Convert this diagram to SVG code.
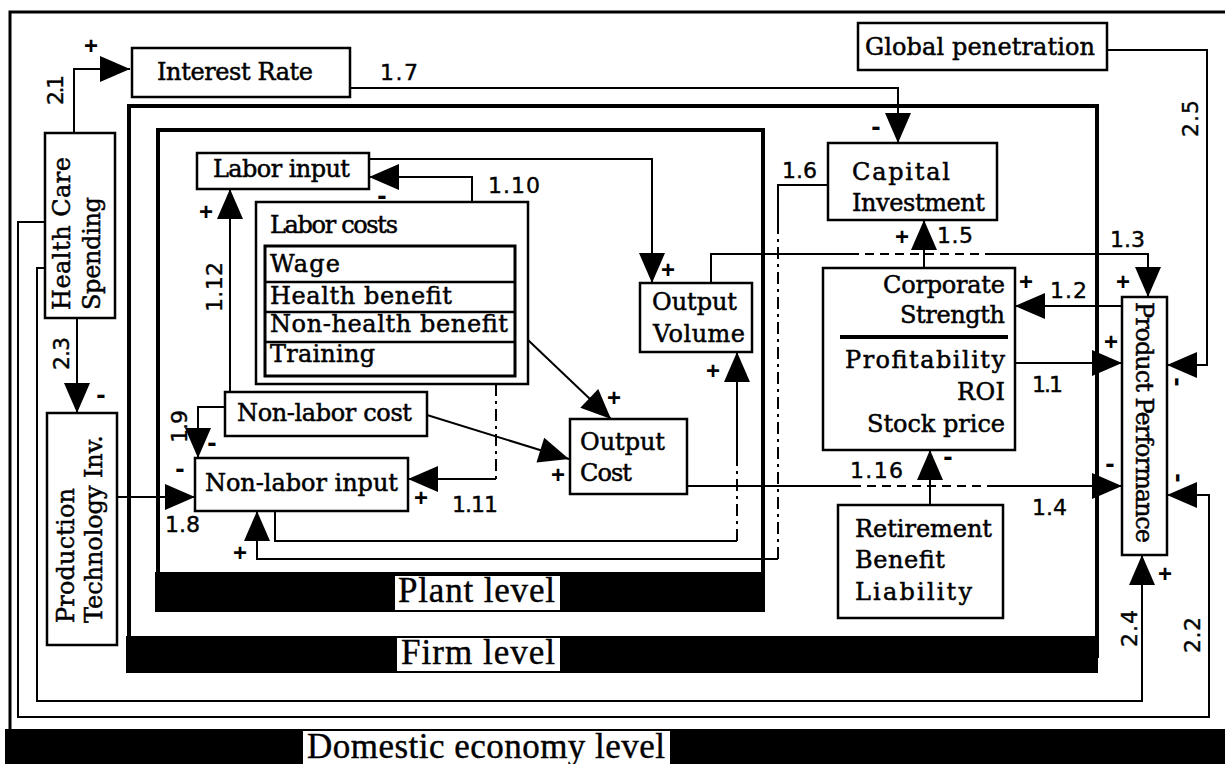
<svg xmlns="http://www.w3.org/2000/svg" width="1225" height="764" viewBox="0 0 1225 764">
<defs>
<marker id="ah" markerUnits="userSpaceOnUse" markerWidth="31" markerHeight="27" refX="30" refY="13" orient="auto" overflow="visible"><path d="M0,0 L30,13 L0,26 Z" fill="#000"/></marker>
</defs>
<style>
.box{fill:#fff;stroke:#000;stroke-width:2.5}
.c{fill:none;stroke:#000;stroke-width:2}
.ca{fill:none;stroke:#000;stroke-width:2;marker-end:url(#ah)}
.d{stroke-dasharray:9 6}
.dd{stroke-dasharray:12 5 3 5}
.n{font-family:"DejaVu Serif",serif;font-size:24px;fill:#000;stroke:#000;stroke-width:0.5}
.num{font-family:"DejaVu Sans",sans-serif;font-size:22px;fill:#000;stroke:#000;stroke-width:0.4}
.sg{font-family:"Liberation Sans",Arial,sans-serif;font-weight:bold;font-size:24px;text-anchor:middle;fill:#000}
.mn{font-family:"Liberation Sans",Arial,sans-serif;font-weight:bold;font-size:28px;text-anchor:middle;fill:#000}
.lvl{font-family:"Liberation Serif",serif;font-size:35px;fill:#000;stroke:#000;stroke-width:0.4}
.frame{fill:none;stroke:#000;stroke-width:4}
</style>
<rect x="0" y="0" width="1225" height="764" fill="#fff"/>

<g id="domestic-level">
<path d="M1225,12 H10 V729" fill="none" stroke="#000" stroke-width="3"/>
<rect x="5" y="729" width="1220" height="35" fill="#000"/>
<rect x="303" y="731" width="367" height="33" fill="#fff"/>
<text class="lvl" x="307" y="758" textLength="358">Domestic economy level</text>
</g>
<g id="firm-level">
<rect class="frame" x="129" y="106" width="968" height="550"/>
<rect x="126" y="636" width="972" height="37" fill="#000"/>
<rect x="397" y="638" width="163" height="33" fill="#fff"/>
<text class="lvl" x="401" y="664" textLength="154">Firm level</text>
</g>
<g id="plant-level">
<rect class="frame" x="158" y="130" width="605" height="460"/>
<rect x="155" y="572" width="610" height="40" fill="#000"/>
<rect x="395" y="576" width="165" height="34" fill="#fff"/>
<text class="lvl" x="398" y="602" textLength="157">Plant level</text>
</g>

<g id="connectors">
<path class="ca" d="M74,133 V69 H130"/>
<path class="ca" d="M350,88 H898 V143"/>
<path class="ca" d="M1107,50 H1207 V365 H1167"/>
<path class="ca" d="M924,268 V220"/>
<path class="c" d="M711,283 V254 H850"/>
<path class="c d" d="M850,254 H990"/>
<path class="ca" d="M990,254 H1148 V297"/>
<path class="ca" d="M1122,306 H1015"/>
<path class="ca" d="M1015,363 H1122"/>
<path class="c" d="M687,486 H852"/>
<path class="c d" d="M852,486 H992"/>
<path class="ca" d="M992,486 H1122"/>
<path class="ca" d="M930,505 V450"/>
<path class="c" d="M828,185 H778 V222"/>
<path class="c dd" d="M778,222 V559"/>
<path class="ca" d="M778,559 H257 V511"/>
<path class="c" d="M275,511 V541 H737"/>
<path class="c dd" d="M737,541 V465"/>
<path class="ca" d="M737,465 V352"/>
<path class="ca" d="M472,202 V177 H369"/>
<path class="ca" d="M369,159 H652 V283"/>
<path class="ca" d="M230,392 V189"/>
<path class="ca" d="M225,407 H198 V458"/>
<path class="ca" d="M117,497 H195"/>
<path class="ca" d="M427,415 L569,459"/>
<path class="ca" d="M528,340 L611,419"/>
<path class="c dd" d="M496,384 V479"/>
<path class="ca" d="M496,479 H408"/>
<path class="ca" d="M77,318 V413"/>
<path class="ca" d="M45,268 H37 V701 H1142 V555"/>
<path class="ca" d="M45,222 H18 V717 H1209 V495 H1167"/>

<text class="num" transform="translate(63,105) rotate(-90)" textLength="30">2.1</text>
<text class="num" x="380" y="80" textLength="38">1.7</text>
<text class="num" transform="translate(1198,137) rotate(-90)" textLength="37">2.5</text>
<text class="num" x="937" y="243" textLength="36">1.5</text>
<text class="num" x="1110" y="247" textLength="35">1.3</text>
<text class="num" x="1050" y="298" textLength="37">1.2</text>
<text class="num" x="1032" y="392" textLength="31">1.1</text>
<text class="num" x="1032" y="515" textLength="35">1.4</text>
<text class="num" x="850" y="478" textLength="53">1.16</text>
<text class="num" x="782" y="178" textLength="35">1.6</text>
<text class="num" x="488" y="193" textLength="52">1.10</text>
<text class="num" x="442" y="235" textLength="36">2.6</text>
<text class="num" transform="translate(222,312) rotate(-90)" textLength="50">1.12</text>
<text class="num" transform="translate(187,443) rotate(-90)" textLength="33">1.9</text>
<text class="num" x="165" y="532" textLength="35">1.8</text>
<text class="num" x="452" y="512" textLength="46">1.11</text>
<text class="num" transform="translate(69,370) rotate(-90)" textLength="33">2.3</text>
<text class="num" transform="translate(1137,647) rotate(-90)" textLength="37">2.4</text>
<text class="num" transform="translate(1200,653) rotate(-90)" textLength="36">2.2</text>

<text class="sg" x="91" y="54">+</text>
<text class="mn" x="876" y="136">-</text>
<text class="mn" x="382" y="205">-</text>
<text class="sg" x="206" y="220">+</text>
<text class="sg" x="668" y="278">+</text>
<text class="sg" x="713" y="379">+</text>
<text class="sg" x="614" y="406">+</text>
<text class="sg" x="558" y="483">+</text>
<text class="sg" x="421" y="506">+</text>
<text class="mn" x="212" y="452">-</text>
<text class="mn" x="180" y="478">-</text>
<text class="mn" x="101" y="404">-</text>
<text class="sg" x="240" y="561">+</text>
<text class="sg" x="902" y="245">+</text>
<text class="sg" x="1123" y="290">+</text>
<text class="sg" x="1026" y="290">+</text>
<text class="sg" x="1111" y="350">+</text>
<text class="mn" x="1110" y="473">-</text>
<text class="mn" x="948" y="466">-</text>
<text class="mn" transform="translate(1177,382) rotate(90)" y="8">-</text>
<text class="mn" transform="translate(1178,478) rotate(90)" y="8">-</text>
<text class="sg" x="1165" y="582">+</text>
</g>

<g id="interest-rate">
<rect class="box" x="132" y="48" width="218" height="49"/>
<text class="n" x="157" y="80" textLength="156">Interest Rate</text>
</g>
<g id="health-care-spending">
<rect class="box" x="45" y="133" width="70" height="185"/>
<text class="n" transform="translate(70,310) rotate(-90)" textLength="153">Health Care</text>
<text class="n" transform="translate(100,310) rotate(-90)" textLength="113">Spending</text>
</g>
<g id="production-technology">
<rect class="box" x="47" y="413" width="70" height="232"/>
<text class="n" transform="translate(74,623) rotate(-90)" textLength="135">Production</text>
<text class="n" transform="translate(102,623) rotate(-90)" textLength="188">Technology Inv.</text>
</g>
<g id="global-penetration">
<rect class="box" x="858" y="23" width="249" height="47"/>
<text class="n" x="865" y="55" textLength="230">Global penetration</text>
</g>
<g id="capital-investment">
<rect class="box" x="828" y="143" width="169" height="77"/>
<text class="n" x="852" y="180" textLength="98">Capital</text>
<text class="n" x="852" y="211" textLength="133">Investment</text>
</g>
<g id="corporate-strength">
<rect class="box" x="823" y="268" width="192" height="182"/>
<text class="n" x="883" y="293" textLength="122">Corporate</text>
<text class="n" x="900" y="323" textLength="105">Strength</text>
<path d="M840,337 H1008" stroke="#000" stroke-width="4"/>
<text class="n" x="845" y="368" textLength="160">Profitability</text>
<text class="n" x="957" y="400" textLength="48">ROI</text>
<text class="n" x="867" y="432" textLength="138">Stock price</text>
</g>
<g id="product-performance">
<rect class="box" x="1122" y="297" width="45" height="258"/>
<text class="n" transform="translate(1136,302) rotate(90)" textLength="241">Product Performance</text>
</g>
<g id="retirement-benefit-liability">
<rect class="box" x="838" y="505" width="165" height="113"/>
<text class="n" x="855" y="537" textLength="137">Retirement</text>
<text class="n" x="855" y="568" textLength="90">Benefit</text>
<text class="n" x="855" y="600" textLength="117">Liability</text>
</g>
<g id="labor-input">
<rect class="box" x="197" y="153" width="172" height="36"/>
<text class="n" x="213" y="177" textLength="137">Labor input</text>
</g>
<g id="labor-costs">
<rect class="box" x="256" y="202" width="272" height="182"/>
<text class="n" x="270" y="233" textLength="128">Labor costs</text>
<rect x="265" y="246" width="250" height="130" fill="#fff" stroke="#000" stroke-width="3"/>
<path d="M265,282 H515 M265,312 H515 M265,342 H515" stroke="#000" stroke-width="2.5"/>
<text class="n" x="270" y="272" textLength="70">Wage</text>
<text class="n" x="270" y="304" textLength="182">Health benefit</text>
<text class="n" x="270" y="332" textLength="238">Non-health benefit</text>
<text class="n" x="270" y="362" textLength="105">Training</text>
</g>
<g id="non-labor-cost">
<rect class="box" x="225" y="392" width="202" height="44"/>
<text class="n" x="237" y="421" textLength="175">Non-labor cost</text>
</g>
<g id="non-labor-input">
<rect class="box" x="195" y="458" width="213" height="53"/>
<text class="n" x="205" y="491" textLength="193">Non-labor input</text>
</g>
<g id="output-cost">
<rect class="box" x="570" y="419" width="117" height="75"/>
<text class="n" x="580" y="450" textLength="85">Output</text>
<text class="n" x="580" y="481" textLength="52">Cost</text>
</g>
<g id="output-volume">
<rect class="box" x="640" y="283" width="112" height="69"/>
<text class="n" x="652" y="310" textLength="85">Output</text>
<text class="n" x="653" y="342" textLength="92">Volume</text>
</g>
</svg>
